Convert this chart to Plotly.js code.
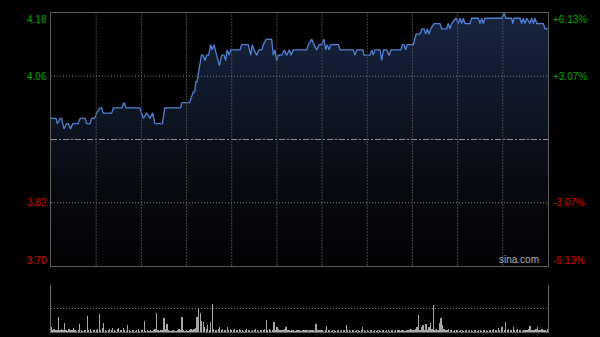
<!DOCTYPE html>
<html>
<head>
<meta charset="utf-8">
<script src="https://cdn.plot.ly/plotly-3.0.1.min.js"></script>
<style>html,body{margin:0;padding:0;background:#000;}#chart{width:600px;height:337px;}</style>
</head>
<body>
<div id="chart"></div>
<script>
// Trading minutes (HK session, 330 minutes) at which the price changes, and the prices
var minutes = [0,3.3,4.2,6,7,8.6,10.4,11.5,13,14.4,18,19.3,22.6,23.7,26,27,29,30.3,32.5,33.6,34.7,40.3,41.4,47,48.5,49.8,59,61.3,63.5,65.7,67.5,69,74,75.5,86,87,92,93.2,94.4,95.4,96.2,97,97.7,98.7,99.9,101,102.3,103.4,104.7,106,107,108.2,110,111.8,113.3,114.9,116,117,118.2,119.3,125.5,126.6,131,132.6,133.7,134.8,136.6,138.1,139.9,141,142.8,146.5,147.6,148.7,149.8,151,153.2,155,156.5,158.2,159.4,160.9,169.8,170.9,173.1,174.6,176.4,178,179.7,181.3,182.4,183.5,184.6,185.7,190.8,191.9,200.7,201.9,203,207,207.8,211.8,213,214,215.1,218.5,219.6,220.7,222.9,224.4,225.8,232.2,233.5,234.4,235.5,236.6,240.6,242.4,245,246.3,247.7,248.8,249.9,251,252.1,254.3,258.3,259.4,262.7,263.8,264.9,266,268.9,270.4,271.6,272.7,273.8,274.9,278.2,279.3,283.7,284.9,286,287,288.2,299.3,300.8,302.1,305.9,306.6,307.4,311.4,312.5,313.6,314.7,315.9,318,319.2,320.3,321.4,322.5,326.9,328,330];
var prices = [3.98,3.98,3.97,3.98,3.98,3.96,3.97,3.97,3.96,3.97,3.97,3.98,3.98,3.97,3.97,3.98,3.98,3.99,4.00,4.00,3.99,3.99,4.00,4.00,4.01,4.00,4.00,3.98,3.99,3.98,3.99,3.97,3.97,4.00,4.00,4.01,4.01,4.02,4.03,4.03,4.05,4.05,4.06,4.08,4.10,4.10,4.09,4.10,4.10,4.12,4.11,4.12,4.10,4.08,4.10,4.10,4.09,4.11,4.10,4.11,4.11,4.12,4.12,4.10,4.12,4.11,4.10,4.11,4.11,4.12,4.13,4.13,4.10,4.11,4.09,4.10,4.10,4.11,4.10,4.11,4.10,4.11,4.11,4.12,4.13,4.12,4.11,4.12,4.12,4.13,4.11,4.12,4.11,4.12,4.12,4.11,4.11,4.10,4.11,4.11,4.10,4.10,4.11,4.10,4.11,4.11,4.09,4.11,4.11,4.10,4.11,4.11,4.12,4.12,4.11,4.12,4.12,4.14,4.14,4.15,4.15,4.14,4.15,4.14,4.15,4.16,4.16,4.15,4.15,4.16,4.15,4.16,4.17,4.16,4.17,4.16,4.17,4.16,4.16,4.17,4.17,4.16,4.17,4.16,4.17,4.17,4.18,4.17,4.17,4.16,4.17,4.17,4.16,4.17,4.16,4.17,4.16,4.17,4.16,4.17,4.16,4.16,4.15,4.15];

// Per-minute volume (relative units)
var volumes = [
5,2,3,2,2,15,2,3,2,9,2,1,3,2,2,4,2,1,2,8,2,1,2,2,16,2,3,1,2,2,
2,3,18,2,4,9,2,1,2,3,2,4,2,1,3,4,2,2,4,2,1,7,2,1,2,2,1,2,3,1,
2,2,11,1,2,1,2,1,2,3,19,2,1,2,2,14,3,8,2,1,1,2,1,1,2,3,2,15,2,1,
2,1,2,3,2,3,4,15,23,19,11,10,5,3,7,2,10,28,3,2,2,3,5,2,3,2,2,5,2,3,
2,2,3,2,2,3,2,2,1,2,3,2,2,1,2,2,3,2,1,2,2,2,3,12,2,3,2,2,10,2,
5,3,2,2,2,3,5,2,2,1,2,2,1,2,2,2,1,2,2,2,2,1,2,2,2,1,8,2,2,2,
2,1,2,6,2,2,1,2,2,1,2,2,1,2,2,2,7,2,2,1,2,2,1,2,2,1,2,5,2,1,
2,1,2,2,1,2,1,2,2,1,2,2,1,2,2,1,2,2,1,2,2,2,1,2,2,1,2,2,2,3,
2,2,3,5,17,2,5,7,2,8,2,5,9,3,27,2,3,2,9,14,7,3,2,2,3,2,2,1,2,2,
2,1,2,2,1,2,2,1,2,2,1,2,2,1,2,2,1,2,2,2,1,2,2,2,3,2,2,4,2,5,
5,2,10,2,3,2,2,5,2,2,3,2,2,1,2,2,2,3,6,2,2,2,3,5,2,2,3,2,2,1,
3];
var volMinutes = volumes.map(function(v, i){ return i; });

var prevClose = 3.94;
var priceTicks = [3.70, 3.82, 4.06, 4.18];
var priceLabels = ['3.70', '3.82', '4.06', '4.18'];
var pctLabels = ['-6.13%', '-3.07%', '+3.07%', '+6.13%'];
var sessionMinutes = [0, 330];
var timeGrid = [30, 60, 90, 120, 150, 180, 210, 240, 270, 300];
var priceGrid = [3.82, 4.06];
var volGrid = [23.5, 47];

var green = '#00a800', red = '#e00000';

var traces = [
  {
    x: minutes, y: prices, type: 'scatter', mode: 'lines',
    line: {color: '#4f82d6', width: 1.3, shape: 'linear'},
    fill: 'tozeroy',
    fillgradient: {type: 'vertical', start: 3.70, stop: 4.18,
      colorscale: [[0, 'rgb(2,2,4)'], [0.35, 'rgb(8,11,18)'], [0.7, 'rgb(16,25,43)'], [1, 'rgb(24,37,64)']]},
    xaxis: 'x', yaxis: 'y', hoverinfo: 'skip'
  },
  {
    x: sessionMinutes, y: [prevClose, prevClose], type: 'scatter', mode: 'lines',
    line: {color: '#909090', width: 1, dash: '6px,2px,2px,2px'},
    xaxis: 'x', yaxis: 'y', hoverinfo: 'skip'
  },
  {
    x: volMinutes, y: volumes, type: 'bar', width: 0.8,
    marker: {color: '#a8a8a8', line: {width: 0}},
    xaxis: 'x2', yaxis: 'y2', hoverinfo: 'skip'
  }
];

// grid lines drawn above the area fill, positioned through the axes
var shapes = [];
timeGrid.forEach(function(t){
  shapes.push({type: 'line', xref: 'x', yref: 'y', x0: t, x1: t, y0: priceTicks[0], y1: priceTicks[priceTicks.length - 1],
    layer: 'above', line: {color: 'rgba(80,80,80,0.85)', width: 1, dash: '2px,1px'}});
});
priceGrid.forEach(function(p){
  shapes.push({type: 'line', xref: 'x', yref: 'y', x0: sessionMinutes[0], x1: sessionMinutes[1], y0: p, y1: p,
    layer: 'above', line: {color: 'rgba(140,140,140,0.9)', width: 1, dash: '1px,2px'}});
});

var annotations = [];
priceTicks.forEach(function(v, i){
  var col = v > prevClose ? green : red;
  var ys = (i === priceTicks.length - 1) ? -6 : (i === 0 ? 6 : 0);
  annotations.push({xref: 'paper', yref: 'y', x: 0, y: v, xanchor: 'right', yanchor: 'middle',
    xshift: -2, yshift: ys, text: priceLabels[i], showarrow: false,
    font: {family: 'Liberation Sans, Arial, sans-serif', size: 10, color: col}});
  annotations.push({xref: 'paper', yref: 'y', x: 1, y: v, xanchor: 'left', yanchor: 'middle',
    xshift: 3, yshift: ys, text: pctLabels[i], showarrow: false,
    font: {family: 'Liberation Sans, Arial, sans-serif', size: 10, color: col}});
});
annotations.push({xref: 'paper', yref: 'y', x: 0.985, y: 3.70, xanchor: 'right', yanchor: 'bottom',
  yshift: -1, text: 'sina.com', showarrow: false,
  font: {family: 'Liberation Sans, Arial, sans-serif', size: 10, color: '#b0b0b0'}});

var layout = {
  width: 600, height: 337,
  margin: {l: 51, r: 52, t: 13, b: 5, pad: 0},
  paper_bgcolor: '#000', plot_bgcolor: '#000',
  showlegend: false,
  bargap: 0,
  xaxis: {domain: [0, 1], range: [0, 330], anchor: 'y',
    showticklabels: false, ticks: '', showgrid: false,
    zeroline: false, showline: true, mirror: true, linecolor: '#5a5a5a', linewidth: 1, layer: 'above traces'},
  yaxis: {domain: [0.2069, 1], range: [3.70, 4.18], anchor: 'x',
    showticklabels: false, ticks: '', showgrid: false,
    zeroline: false, showline: true, mirror: true, linecolor: '#5a5a5a', linewidth: 1, layer: 'above traces'},
  xaxis2: {domain: [0, 1], range: [0, 330], anchor: 'y2', showticklabels: false, ticks: '',
    showgrid: false, zeroline: false, showline: true, linecolor: '#5a5a5a', linewidth: 1},
  yaxis2: {domain: [0, 0.1473], range: [0, 47.3], anchor: 'x2', tickmode: 'array', tickvals: volGrid,
    showticklabels: false, ticks: '', showgrid: true, gridcolor: '#7a7a7a', griddash: '1px,2px', gridwidth: 1,
    zeroline: false, showline: true, mirror: true, linecolor: '#6a6a6a', linewidth: 1},
  shapes: shapes,
  annotations: annotations
};

Plotly.newPlot('chart', traces, layout, {staticPlot: true, displayModeBar: false});
</script>
</body>
</html>
